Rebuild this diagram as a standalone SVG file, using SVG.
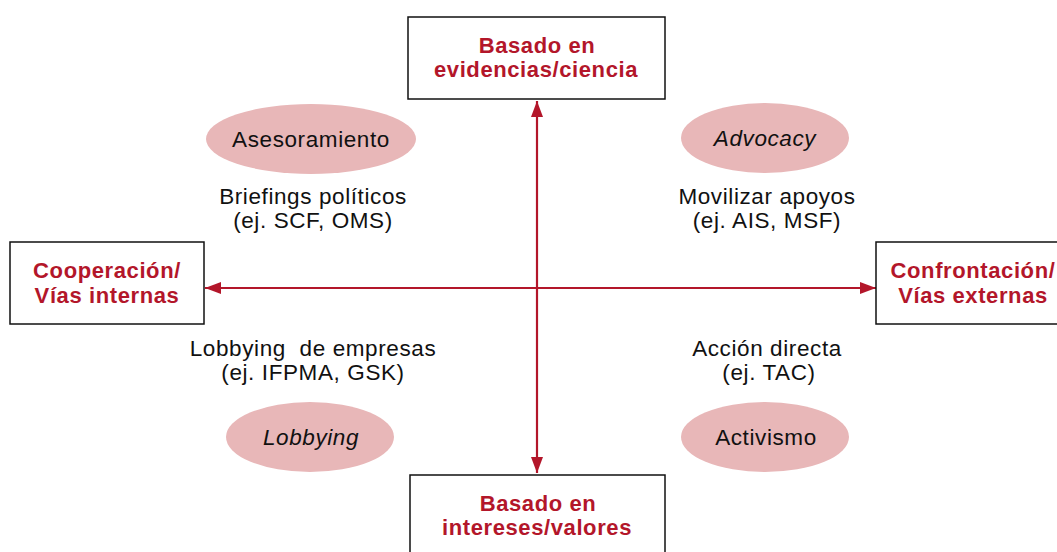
<svg xmlns="http://www.w3.org/2000/svg" width="1057" height="552" viewBox="0 0 1057 552">
<defs>
<marker id="ah" viewBox="0 0 16 12" refX="16" refY="6" markerWidth="16" markerHeight="12" markerUnits="userSpaceOnUse" orient="auto-start-reverse">
<path d="M0,0 L16,6 L0,12 Z" fill="#b3162a"/>
</marker>
</defs>
<style>
.box{fill:#fff;stroke:#111;stroke-width:1.5}
.bt{font-family:"Liberation Sans",Arial,sans-serif;font-weight:bold;font-size:22px;letter-spacing:0.6px;fill:#b3162a;text-anchor:middle}
.el{fill:#e8b7b8}
.t{font-family:"Liberation Sans",Arial,sans-serif;font-size:22.5px;letter-spacing:0.6px;fill:#111;text-anchor:middle}
.it{font-style:italic}
.ax{stroke:#b3162a;stroke-width:2.2;fill:none}
</style>
<rect width="1057" height="552" fill="#fff"/>
<g id="connectors">
<line class="ax" x1="537" y1="288" x2="537" y2="101" marker-end="url(#ah)"/>
<line class="ax" x1="537" y1="288" x2="537" y2="473" marker-end="url(#ah)"/>
<line class="ax" x1="537" y1="288" x2="205" y2="288" marker-end="url(#ah)"/>
<line class="ax" x1="537" y1="288" x2="876" y2="288" marker-end="url(#ah)"/>
</g>
<g id="top">
<rect class="box" x="408" y="17" width="257" height="82"/>
<text class="bt" x="537" y="53">Basado en</text>
<text class="bt" x="536" y="77">evidencias/ciencia</text>
</g>
<g id="bottom">
<rect class="box" x="410" y="475" width="255" height="90"/>
<text class="bt" x="538" y="511">Basado en</text>
<text class="bt" x="537" y="535">intereses/valores</text>
</g>
<g id="left">
<rect class="box" x="10" y="242" width="194" height="82"/>
<text class="bt" x="107" y="278">Cooperación/</text>
<text class="bt" x="107" y="303">Vías internas</text>
</g>
<g id="right">
<rect class="box" x="876" y="242" width="190" height="82"/>
<text class="bt" x="973" y="278">Confrontación/</text>
<text class="bt" x="973" y="303">Vías externas</text>
</g>
<g id="asesoramiento">
<ellipse class="el" cx="311" cy="139" rx="105" ry="35"/>
<text class="t" x="311" y="147">Asesoramiento</text>
</g>
<g id="advocacy">
<ellipse class="el" cx="765" cy="138" rx="84" ry="35"/>
<text class="t it" x="765" y="146">Advocacy</text>
</g>
<g id="lobbying">
<ellipse class="el" cx="310" cy="437" rx="84" ry="35"/>
<text class="t it" x="311" y="445">Lobbying</text>
</g>
<g id="activismo">
<ellipse class="el" cx="765" cy="437" rx="84" ry="35"/>
<text class="t" x="766" y="445">Activismo</text>
</g>
<g id="labels">
<text class="t" x="313" y="204">Briefings políticos</text>
<text class="t" x="313" y="228">(ej. SCF, OMS)</text>
<text class="t" x="767" y="204">Movilizar apoyos</text>
<text class="t" x="767" y="228">(ej. AIS, MSF)</text>
<text class="t" x="313" y="356" xml:space="preserve">Lobbying  de empresas</text>
<text class="t" x="313" y="380">(ej. IFPMA, GSK)</text>
<text class="t" x="767" y="356">Acción directa</text>
<text class="t" x="769" y="380">(ej. TAC)</text>
</g>
</svg>
